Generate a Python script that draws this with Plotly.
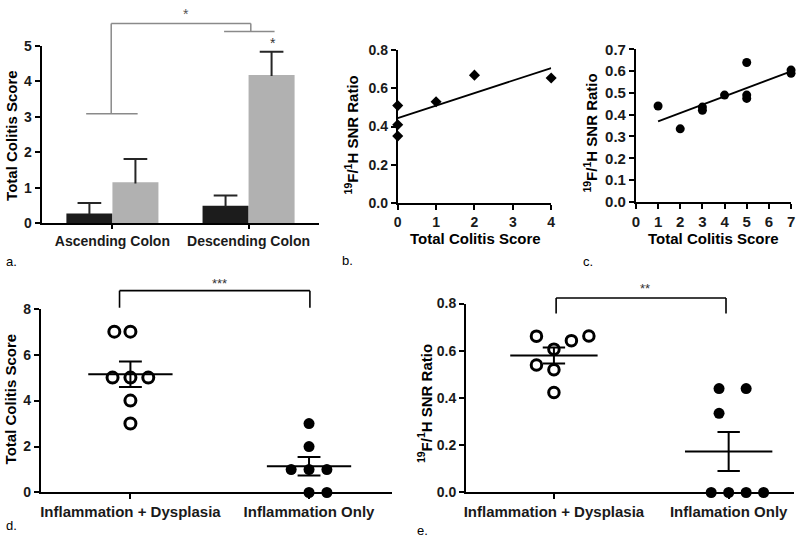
import numpy as np
import plotly.graph_objects as go

W, H = 800, 547
FONT = "Liberation Sans"

# ---------------- data ----------------
# panel a: bar chart (mean + SEM)
a_sites = ["Ascending Colon", "Descending Colon"]
a_black_mean = [0.27, 0.49]
a_black_err = [0.30, 0.29]
a_gray_mean = [1.15, 4.18]
a_gray_err = [0.66, 0.65]

# panel b: 19F/1H SNR vs total colitis score
b_score = [0, 0, 0, 1, 2, 4]
b_ratio = [0.51, 0.41, 0.35, 0.53, 0.67, 0.655]

# panel c
c_score = [1, 2, 3, 3, 4, 5, 5, 5, 7, 7]
c_ratio = [0.44, 0.335, 0.435, 0.42, 0.49, 0.64, 0.49, 0.475, 0.605, 0.59]

# panel d: total colitis score per group
d_groups = ["Inflammation + Dysplasia", "Inflammation Only"]
d_dysplasia = [7, 7, 5, 5, 5, 4, 3]
d_inflam = [3, 2, 1, 1, 1, 0, 0]

# panel e: 19F/1H SNR ratio per group
e_groups = ["Inflammation + Dysplasia", "Inflamation Only"]
e_dysplasia = [0.662, 0.643, 0.663, 0.607, 0.540, 0.520, 0.423]
e_inflam = [0.44, 0.44, 0.335, 0, 0, 0, 0]

# horizontal jitter slots of the dot plots (layout only)
d_slots_dys = [-0.9, 0, -1, 0, 1, 0, 0]
d_slots_inf = [0, 0, -1, 0, 1, 0, 1]
e_slots_dys = [-1, 1, 2, 0, -1, 0, 0]
e_slots_inf = [-0.55, 1, -0.55, -1, 0, 1, 2]


# ---------------- helpers ----------------
def xd(x0, x1):
    return [x0 / W, x1 / W]


def yd(y0, y1):
    return [1 - y0 / H, 1 - y1 / H]


def PX(x):
    return x / W


def PY(y):
    return 1 - y / H


def mean_sem(v):
    v = np.asarray(v, dtype=float)
    return v.mean(), v.std(ddof=1) / np.sqrt(len(v))


def tf(size):
    return dict(family=FONT, size=size, color="#1a1a1a", weight="bold")


axis_style = dict(showline=True, linecolor="black", linewidth=2, ticks="outside",
                  ticklen=5, tickwidth=2, tickcolor="black", showgrid=False,
                  zeroline=False, tickfont=tf(14), fixedrange=True)

fig = go.Figure()

# ---------------- panel a ----------------
bw = 0.338
fig.add_trace(go.Bar(x=[0, 1], y=a_black_mean, width=bw, offset=-bw,
                     marker=dict(color="#1c1c1c", line=dict(width=0)),
                     xaxis="x", yaxis="y", showlegend=False))
fig.add_trace(go.Bar(x=[0, 1], y=a_gray_mean, width=bw, offset=0,
                     marker=dict(color="#b1b1b1", line=dict(width=0)),
                     xaxis="x", yaxis="y", showlegend=False))
cap = 0.087
ex, ey = [], []
for i in range(2):
    for c, m, e in ((i - bw / 2, a_black_mean[i], a_black_err[i]),
                    (i + bw / 2, a_gray_mean[i], a_gray_err[i])):
        ex += [c, c, None, c - cap, c + cap, None]
        ey += [m - 0.03, m + e, None, m + e, m + e, None]
fig.add_trace(go.Scatter(x=ex, y=ey, mode="lines", line=dict(color="#262626", width=2),
                         xaxis="x", yaxis="y", showlegend=False, hoverinfo="skip",
                         cliponaxis=False))

# ---------------- panel b ----------------
fig.add_trace(go.Scatter(x=b_score, y=b_ratio, mode="markers",
                         marker=dict(symbol="diamond", size=8.5, color="black"),
                         xaxis="x2", yaxis="y2", showlegend=False, cliponaxis=False))
bf = np.polyfit(b_score, b_ratio, 1)
bx = [min(b_score), max(b_score)]
fig.add_trace(go.Scatter(x=bx, y=np.polyval(bf, bx), mode="lines",
                         line=dict(color="black", width=1.8),
                         xaxis="x2", yaxis="y2", showlegend=False, cliponaxis=False))

# ---------------- panel c ----------------
fig.add_trace(go.Scatter(x=c_score, y=c_ratio, mode="markers",
                         marker=dict(symbol="circle", size=9, color="black"),
                         xaxis="x3", yaxis="y3", showlegend=False, cliponaxis=False))
cf = np.polyfit(c_score, c_ratio, 1)
cx = [min(c_score), max(c_score)]
fig.add_trace(go.Scatter(x=cx, y=np.polyval(cf, cx), mode="lines",
                         line=dict(color="black", width=1.8),
                         xaxis="x3", yaxis="y3", showlegend=False, cliponaxis=False))


# ---------------- panels d, e ----------------
def dot_panel(xa, ya, vals_open, slots_open, vals_fill, slots_fill, step, hw, capw, osize, fsize):
    fig.add_trace(go.Scatter(x=[0 + s * step for s in slots_open], y=vals_open, mode="markers",
                             marker=dict(symbol="circle-open", size=osize, color="black",
                                         line=dict(width=3, color="black")),
                             xaxis=xa, yaxis=ya, showlegend=False, cliponaxis=False))
    fig.add_trace(go.Scatter(x=[1 + s * step for s in slots_fill], y=vals_fill, mode="markers",
                             marker=dict(symbol="circle", size=fsize, color="black"),
                             xaxis=xa, yaxis=ya, showlegend=False, cliponaxis=False))
    lx, ly = [], []
    for i, v in enumerate((vals_open, vals_fill)):
        m, s = mean_sem(v)
        lx += [i - hw, i + hw, None, i, i, None, i - capw, i + capw, None, i - capw, i + capw, None]
        ly += [m, m, None, m - s, m + s, None, m + s, m + s, None, m - s, m - s, None]
    fig.add_trace(go.Scatter(x=lx, y=ly, mode="lines", line=dict(color="black", width=2),
                             xaxis=xa, yaxis=ya, showlegend=False, hoverinfo="skip",
                             cliponaxis=False))


dot_panel("x4", "y4", d_dysplasia, d_slots_dys, d_inflam, d_slots_inf, 0.1, 0.236, 0.064, 11, 11)
dot_panel("x5", "y5", e_dysplasia, e_slots_dys, e_inflam, e_slots_inf, 0.1, 0.25, 0.064, 10.5, 11)

# ---------------- layout ----------------
fig.update_layout(
    width=W, height=H, autosize=False,
    margin=dict(l=0, r=0, t=0, b=0),
    paper_bgcolor="white", plot_bgcolor="white",
    font=dict(family=FONT, color="black"),
    xaxis=dict(axis_style, domain=xd(38, 318), range=[-0.52, 1.516], tickvals=[0, 1],
               ticktext=a_sites, ticklen=4, anchor="y", tickfont=tf(14)),
    yaxis=dict(axis_style, domain=yd(221, 38), range=[0, 5], dtick=1, anchor="x"),
    xaxis2=dict(axis_style, domain=xd(397.7, 552.7), range=[0, 4], dtick=1, anchor="y2"),
    yaxis2=dict(axis_style, domain=yd(200, 42.7), range=[0, 0.8], dtick=0.2,
                tickformat=".1f", anchor="x2"),
    xaxis3=dict(axis_style, domain=xd(638.3, 795), range=[0, 7], dtick=1, anchor="y3",
                tickfont=tf(15)),
    yaxis3=dict(axis_style, domain=yd(199, 41.7), range=[0, 0.7], dtick=0.1,
                tickformat=".1f", anchor="x3", tickfont=tf(15)),
    xaxis4=dict(axis_style, domain=xd(37.3, 392), range=[-0.501, 1.465], tickvals=[0, 1],
                ticktext=d_groups, anchor="y4", tickfont=tf(15)),
    yaxis4=dict(axis_style, domain=yd(499, 309.3), range=[0, 8], dtick=2, anchor="x4"),
    xaxis5=dict(axis_style, domain=xd(466.7, 798), range=[-0.503, 1.374], tickvals=[0, 1],
                ticktext=e_groups, anchor="y5", tickfont=tf(15)),
    yaxis5=dict(axis_style, domain=yd(499, 304), range=[0, 0.8], dtick=0.2,
                tickformat=".1f", anchor="x5"),
)

# ---------------- text annotations ----------------
ann = []


def text(x, y, s, size=15, bold=True, angle=0, color="black"):
    ann.append(dict(x=PX(x), y=PY(y), xref="paper", yref="paper", text=s, showarrow=False,
                    textangle=angle, xanchor="center", yanchor="middle",
                    font=dict(family=FONT, size=size, color=color,
                              weight="bold" if bold else "normal")))


ratio_title = "<sup>19</sup>F/<sup>1</sup>H SNR Ratio"
text(8, 130, "Total Colitis Score", angle=-90)
text(351, 130, ratio_title, angle=-90)
text(592, 128.5, ratio_title, angle=-90)
text(7.5, 402.5, "Total Colitis Score", angle=-90)
text(425, 407, ratio_title, angle=-90)
text(476, 237, "Total Colitis Score")
text(716.7, 237, "Total Colitis Score")

text(8, 261, "a.", size=13, bold=False)
text(346.5, 260, "b.", size=13, bold=False)
text(589.5, 261, "c.", size=13, bold=False)
text(8, 533, "d.", size=13, bold=False)
text(423, 538, "e.", size=13, bold=False)

text(184, 5, "*", size=14, bold=False, color="#555555")
text(272, 35, "*", size=14, bold=False, color="#333333")
text(218, 283, "***", size=13, bold=False, color="#333333")
text(647, 288, "**", size=13, bold=False, color="#333333")
fig.update_layout(annotations=ann)

# ---------------- significance brackets ----------------
shapes = []


def seg(x0, y0, x1, y1, color, width):
    shapes.append(dict(type="line", xref="paper", yref="paper", x0=PX(x0), y0=PY(y0),
                       x1=PX(x1), y1=PY(y1), line=dict(color=color, width=width)))


g = "#8a8a8a"
seg(83, 108, 135, 108, g, 1.5)
seg(108.3, 108, 108.3, 15, g, 1.5)
seg(108.3, 15, 249.3, 15, g, 1.5)
seg(249.3, 15, 249.3, 23.3, g, 1.5)
seg(222.3, 23.3, 273.3, 23.3, g, 1.5)

seg(116.7, 308.3, 116.7, 290.7, "black", 1.6)
seg(116.7, 290.7, 309, 290.7, "black", 1.6)
seg(309, 290.7, 309, 308.3, "black", 1.6)

seg(557.7, 314.3, 557.7, 298.3, "black", 1.6)
seg(557.7, 298.3, 729.3, 298.3, "black", 1.6)
seg(729.3, 298.3, 729.3, 314.3, "black", 1.6)
fig.update_layout(shapes=shapes)

fig.write_html("out.html", config={"displayModeBar": False},
               post_script="document.body.style.margin='0px';document.body.style.overflow='hidden';")
